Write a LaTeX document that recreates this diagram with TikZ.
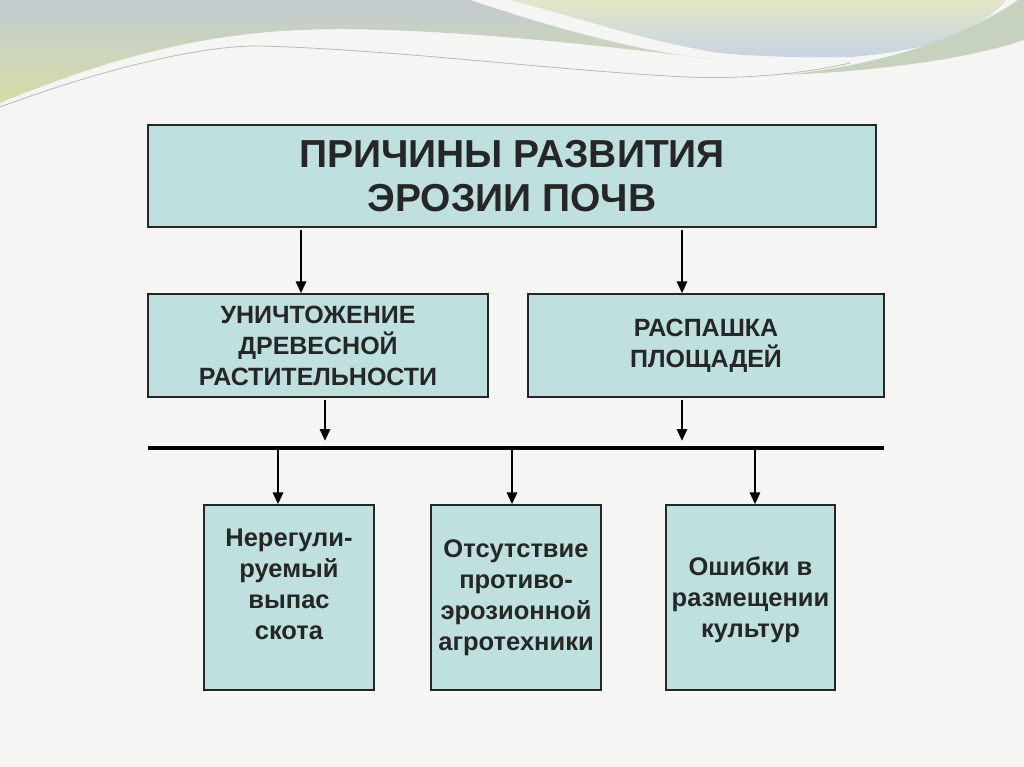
\documentclass[tikz,border=0pt]{standalone}
\usepackage{fontspec}
\setmainfont{Liberation Sans}
\usetikzlibrary{arrows.meta}
\definecolor{boxfill}{HTML}{BEE1E0}
\definecolor{bgc}{HTML}{F5F6F3}
\definecolor{waveA}{HTML}{C2CBCF}
\definecolor{waveB}{HTML}{D6DEA8}
\definecolor{waveC}{HTML}{E2E6C4}
\definecolor{waveD}{HTML}{C6D3E4}
\definecolor{waveE}{HTML}{C6D1BE}
\begin{document}
\begin{tikzpicture}[x=1pt,y=-1pt,
  box/.style={draw=black!85, line width=1.2pt, fill=boxfill, inner sep=0pt, align=center},
  ttl/.style={font=\bfseries\fontsize{39}{44}\selectfont, text=black!85},
  mid/.style={font=\bfseries\fontsize{25}{31}\selectfont, text=black!85},
  lbl/.style={align=center, font=\bfseries\fontsize{25.5}{31}\selectfont, text=black!85},
  arr/.style={line width=2.9pt, -{Triangle[length=12pt,width=10pt]}},
  bar/.style={line width=3.4pt}
]
\useasboundingbox (0,0) rectangle (1024,767);
\fill[bgc] (0,0) rectangle (1024,767);
% decorative waves
\path[top color=waveA, bottom color=waveB]
  (0,0) -- (470,0) .. controls (560,30) and (640,52) .. (719,60)
  .. controls (600,45) and (420,25) .. (300,30)
  .. controls (180,35) and (80,70) .. (0,103) -- cycle;
\path[top color=waveC, bottom color=waveD]
  (510,0) -- (1006,0) .. controls (990,20) and (950,50) .. (850,57)
  .. controls (800,58) and (750,56) .. (719,53)
  .. controls (640,40) and (570,15) .. (510,0) -- cycle;
\fill[waveE] (1018,0) -- (1024,0) -- (1024,40) .. controls (980,55) and (900,70) .. (784,75)
  .. controls (880,65) and (960,40) .. (1018,0) -- cycle;
\draw[gray!55, line width=0.8pt] (0,107) .. controls (100,70) and (200,45) .. (261,46)
  .. controls (400,50) and (550,70) .. (686,77) .. controls (760,80) and (820,70) .. (850,63);

% boxes
\node[box, ttl, minimum width=728pt, minimum height=102pt] (t) at (512,176)
  {ПРИЧИНЫ РАЗВИТИЯ\\ЭРОЗИИ ПОЧВ};
\node[box, mid, minimum width=340pt, minimum height=103pt] (b2) at (318,345.5)
  {УНИЧТОЖЕНИЕ\\ДРЕВЕСНОЙ\\РАСТИТЕЛЬНОСТИ};
\node[box, mid, minimum width=356pt, minimum height=103pt] (b3) at (706,345.5)
  {РАСПАШКА\\ПЛОЩАДЕЙ};
\node[box, minimum width=170pt, minimum height=185pt] (b4) at (289,597.5) {};
\node[box, minimum width=170pt, minimum height=185pt] (b5) at (516,597.5) {};
\node[box, minimum width=169pt, minimum height=185pt] (b6) at (750.5,597.5) {};
\node[lbl] (l4) at ([yshift=13pt]b4.center) {Нерегули-\\руемый\\выпас\\скота};
\node[lbl] (l5) at (b5.center) {Отсутствие\\противо-\\эрозионной\\агротехники};
\node[lbl] (l6) at ([yshift=-2.5pt]b6.center) {Ошибки в\\размещении\\культур};

% connectors
\coordinate (barL) at (148,448);
\coordinate (barR) at (884,448);
\coordinate (j2) at (325,441);
\coordinate (j3) at (682,441);
\draw[bar] (barL) -- (barR);
\draw[arr] ([xshift=-211pt,yshift=-2pt]t.south) -- ([xshift=-17pt]b2.north);
\draw[arr] ([xshift=170pt,yshift=-2pt]t.south) -- ([xshift=-24pt]b3.north);
\draw[arr] ([xshift=7pt,yshift=-2pt]b2.south) -- (j2);
\draw[arr] ([xshift=-24pt,yshift=-2pt]b3.south) -- (j3);
\draw[arr] (barL -| b4.north) ++(-11,0) -- ([xshift=-11pt]b4.north);
\draw[arr] (barL -| b5.north) ++(-4,0) -- ([xshift=-4pt]b5.north);
\draw[arr] (barL -| b6.north) ++(4.5,0) -- ([xshift=4.5pt]b6.north);
\end{tikzpicture}
\end{document}
